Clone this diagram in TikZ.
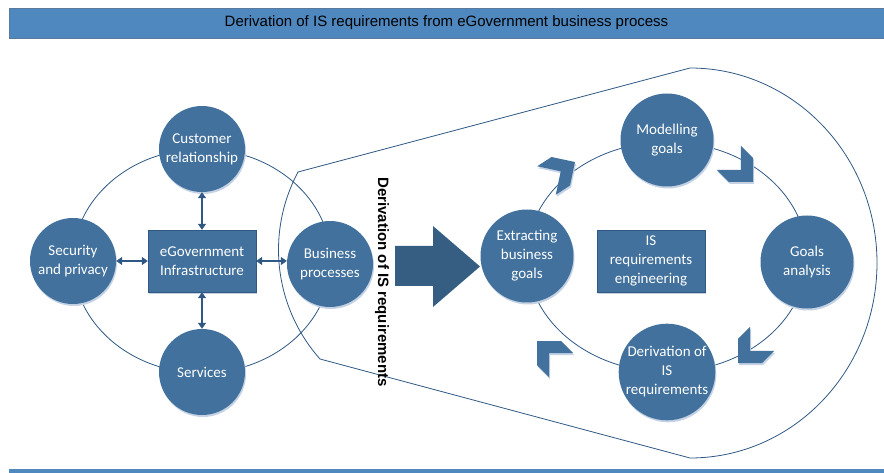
\documentclass[tikz,border=0pt]{standalone}
\usepackage{fontspec}
\setmainfont{Carlito}
\newfontfamily\arialfont{Liberation Sans}
\usepackage{tikz}
\usetikzlibrary{arrows.meta,shadows}
\definecolor{BlueNode}{RGB}{65,113,156}
\definecolor{BlueBar}{RGB}{79,136,190}
\definecolor{BlueLine}{RGB}{47,88,132}
\definecolor{BlueArrow}{RGB}{53,94,130}
\definecolor{BlueShadow}{RGB}{196,210,228}

\begin{document}
\begin{tikzpicture}[x=1pt,y=-1pt,
    bubble/.style={circle, fill=BlueNode, text=white, inner sep=0pt, align=center,
        font=\fontsize{15}{19}\selectfont,
        drop shadow={shadow xshift=1pt, shadow yshift=-2pt, fill=BlueShadow, opacity=1}},
    panel/.style={rectangle, fill=BlueNode, draw=BlueLine, text=white, inner sep=0pt,
        minimum width=108pt, minimum height=62pt, align=center,
        font=\fontsize{15}{19}\selectfont,
        drop shadow={shadow xshift=1pt, shadow yshift=-2pt, fill=BlueShadow, opacity=1}},
    ring/.style={draw=BlueLine, line width=0.8pt},
    dbl/.style={BlueLine, line width=1.3pt, {Triangle[length=6pt,width=8pt]}-{Triangle[length=6pt,width=8pt]}}]
    \useasboundingbox (0,0) rectangle (884,473);
    %%Title and bottom bar
    \node[fill=BlueBar, draw=BlueLine!80, minimum width=875pt, minimum height=30pt, inner sep=0pt,
        font=\arialfont\fontsize{15}{18}\selectfont] (title) at (446.5,23)
        {Derivation of IS requirements from eGovernment business process};
    \fill[BlueBar] (9,469) rectangle (884,473);
    %%Loop
    \draw[ring] (298,172) -- (690,68) arc[start angle=-90, end angle=90, x radius=187, y radius=195]
        -- (320,359) arc[start angle=138.4, end angle=208.2, radius=164.5] -- cycle;
    %%Left ring
    \draw[ring] (202,261) ellipse[x radius=129, y radius=112];
    \node[bubble, minimum size=86pt] (cust) at (202,149) {Customer\\relationship};
    \node[bubble, minimum size=86pt] (serv) at (202,372) {Services};
    \node[bubble, minimum size=86pt] (secu) at (73,261) {Security\\and privacy};
    \node[bubble, minimum size=86pt] (busi) at (330,264) {Business\\processes};
    \node[panel] (infra) at (202,261) {eGovernment\\Infrastructure};
    \draw[dbl] (cust) -- (infra);
    \draw[dbl] (infra) -- (serv);
    \draw[dbl] (secu) -- (infra);
    \draw[dbl] (infra.east) -- (infra.east -| busi.west);
    %%Arrow
    \fill[BlueArrow] (395,246) -- (433,246) -- (433,226) -- (480,266.5) -- (433,307) -- (433,286) -- (395,286) -- cycle;
    \node[rotate=-90, font=\arialfont\bfseries\fontsize{15}{18}\selectfont] (derivlabel) at (382,282)
        {Derivation of IS requirements};
    %%Right ring
    \draw[ring] (667,257) ellipse[x radius=140, y radius=115];
    \foreach \x/\y/\a in {575/162/33, 753/182/-45, 738/363/-135, 537/341/135}
    {
    \fill[BlueNode, drop shadow={shadow xshift=1pt, shadow yshift=-2pt, fill=BlueShadow, opacity=1},
        shift={(\x,\y)}, rotate=\a] (0,0) -- (-17,17) -- (-34,17) -- (-17,0) -- (-34,-17) -- (-17,-17) -- cycle;
    }
    \node[bubble, minimum size=93pt] (extr) at (527,256) {Extracting\\business\\goals};
    \node[bubble, minimum size=93pt] (model) at (667,140) {Modelling\\goals};
    \node[bubble, minimum size=93pt] (anal) at (807,262) {Goals\\analysis};
    \node[bubble, minimum size=93pt] (deriv) at (667,372) {Derivation of\\IS\\requirements};
    \node[panel] (isre) at (651,261) {IS\\requirements\\engineering};
\end{tikzpicture}
\end{document}
